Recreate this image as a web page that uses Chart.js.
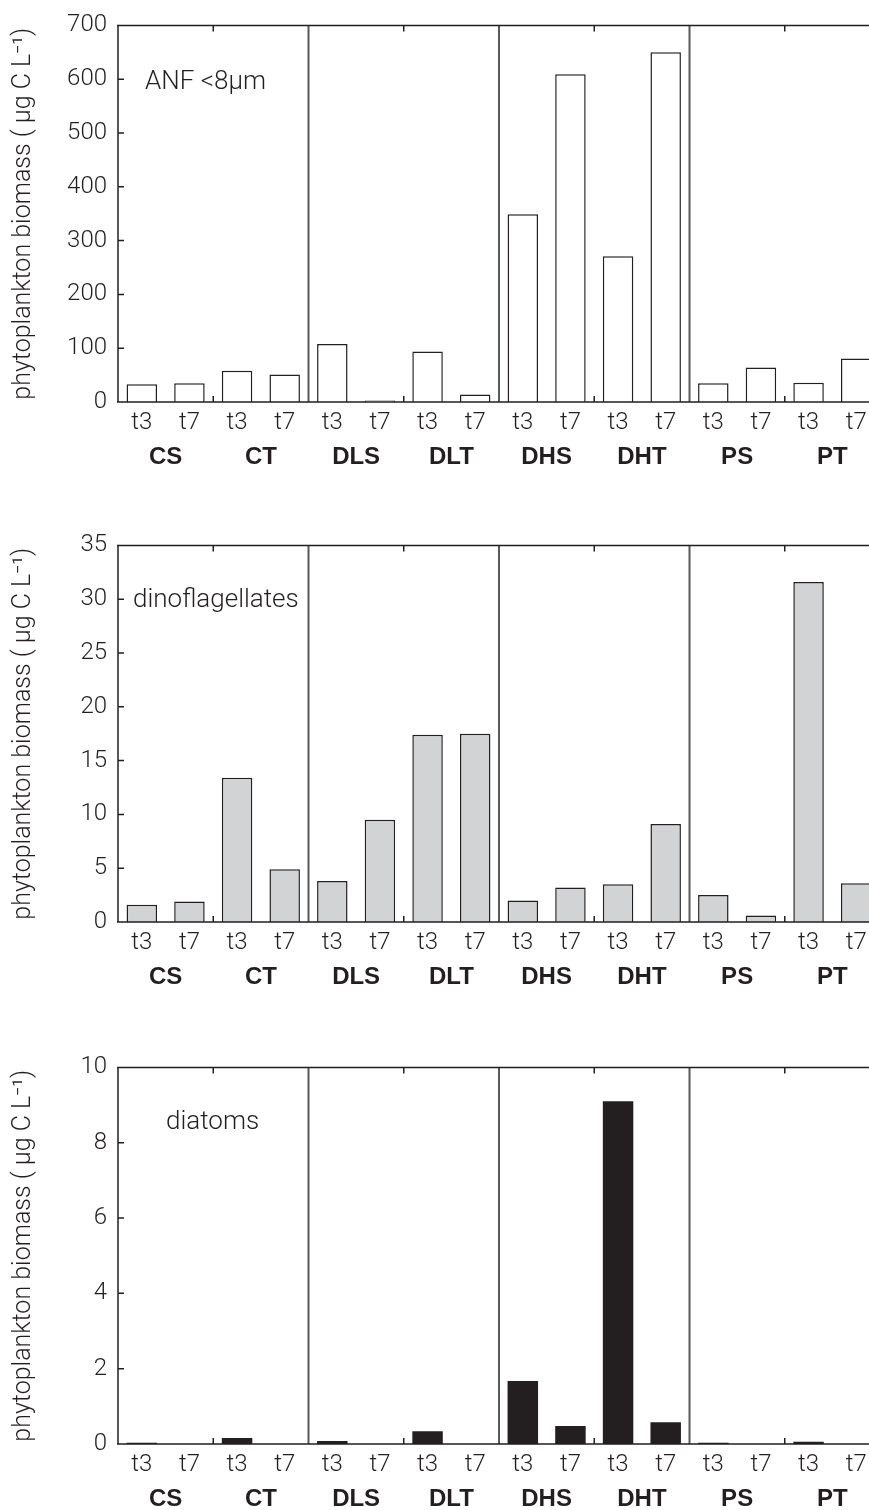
<!DOCTYPE html>
<html>
<head>
<meta charset="utf-8">
<script src="https://cdn.jsdelivr.net/npm/chart.js@4/dist/chart.umd.min.js"></script>
<style>
  html, body { margin: 0; padding: 0; background: #fff; overflow: hidden; width: 869px; height: 1510px; }
  canvas { position: absolute; left: 0; }
</style>
</head>
<body>
<canvas id="anf" width="882" height="480" style="top:0px"></canvas>
<canvas id="dino" width="882" height="480" style="top:520px"></canvas>
<canvas id="diatom" width="882" height="480" style="top:1042px"></canvas>
<script>
// treatments and sampling days
const groups = ["CS", "CT", "DLS", "DLT", "DHS", "DHT", "PS", "PT"];
const times = ["t3", "t7"];

// biomass values, t3 then t7 for each treatment
const anfValues = [33, 35, 58, 51, 108, 3, 94, 14, 349, 609, 271, 650, 35, 64, 36, 81];
const dinoValues = [1.6, 1.9, 13.4, 4.9, 3.8, 9.5, 17.4, 17.5, 2.0, 3.2, 3.5, 9.1, 2.5, 0.6, 31.6, 3.6];
const diatomValues = [0.03, 0, 0.16, 0, 0.08, 0, 0.34, 0, 1.67, 0.48, 9.1, 0.58, 0.03, 0, 0.06, 0];

const ink = "#231f20";
const lightFont = "Roboto, 'Liberation Sans', sans-serif";
const yTitle = "phytoplankton biomass ( \u03bcg C L\u207b\u00b9)";

// frame, inward ticks, separators and the panel label
const framePlugin = {
  id: "frame",
  afterDatasetsDraw(chart, args, opts) {
    const ctx = chart.ctx;
    const a = chart.chartArea;
    const x = chart.scales.x;
    const y = chart.scales.y;
    const mid = (i) => (x.getPixelForValue(i) + x.getPixelForValue(i + 1)) / 2;
    ctx.save();

    // separators between every 2 treatments
    ctx.strokeStyle = "#58595b";
    ctx.lineWidth = 2;
    [3, 7, 11].forEach((i) => {
      ctx.beginPath();
      ctx.moveTo(mid(i), a.top);
      ctx.lineTo(mid(i), a.bottom);
      ctx.stroke();
    });

    ctx.strokeStyle = ink;
    ctx.lineWidth = 1.5;
    ctx.beginPath();
    ctx.moveTo(a.left, a.top);
    ctx.lineTo(a.left, a.bottom);
    ctx.moveTo(a.left - 1, a.top);
    ctx.lineTo(a.right, a.top);
    ctx.moveTo(a.left - 1, a.bottom);
    ctx.lineTo(a.right, a.bottom);
    ctx.stroke();

    // small ticks between treatments
    ctx.beginPath();
    [1, 5, 9, 13].forEach((i) => {
      ctx.moveTo(mid(i), a.top);
      ctx.lineTo(mid(i), a.top + 6);
      ctx.moveTo(mid(i), a.bottom);
      ctx.lineTo(mid(i), a.bottom - 6);
    });
    // inward y ticks
    y.ticks.forEach((t) => {
      if (t.value <= y.min || t.value >= y.max) return;
      const py = y.getPixelForValue(t.value);
      ctx.moveTo(a.left, py);
      ctx.lineTo(a.left + 6, py);
    });
    ctx.stroke();

    // panel label
    ctx.fillStyle = ink;
    ctx.font = "300 26px " + lightFont;
    ctx.textBaseline = "middle";
    ctx.fillText(opts.text, a.left + opts.dx, a.top + opts.dy);
    ctx.restore();
  },
};

function makePanel(id, values, max, step, fill, border, bw, label, dx, dy) {
  new Chart(document.getElementById(id), {
    type: "bar",
    data: {
      labels: groups.flatMap(() => times),
      datasets: [
        {
          data: values,
          backgroundColor: fill,
          borderColor: border,
          borderWidth: bw,
          barPercentage: 0.64,
          categoryPercentage: 1,
        },
      ],
    },
    options: {
      responsive: false,
      animation: false,
      layout: { padding: { top: 23, right: 2, bottom: 3, left: 0 } },
      plugins: {
        legend: { display: false },
        tooltip: { enabled: false },
        frame: { text: label, dx: dx, dy: dy },
      },
      scales: {
        x: {
          grid: { display: false, drawTicks: false },
          border: { display: false },
          ticks: { color: ink, padding: 7, font: { family: lightFont, size: 24, weight: 300 } },
          afterFit: (s) => { s.height = 35; },
        },
        x2: {
          type: "category",
          labels: groups,
          position: "bottom",
          grid: { display: false, drawTicks: false },
          border: { display: false },
          ticks: { color: ink, padding: 6, font: { family: "'Liberation Sans', Arial, sans-serif", size: 24, weight: "bold" } },
          afterFit: (s) => { s.height = 40; },
        },
        y: {
          min: 0,
          max: max,
          grid: { display: false, drawTicks: false },
          border: { display: false },
          ticks: { stepSize: step, color: ink, padding: 11, font: { family: lightFont, size: 24, weight: 300 } },
          title: {
            display: true,
            text: yTitle,
            color: ink,
            padding: { top: 9, bottom: 0 },
            font: { family: lightFont, size: 25, weight: 300 },
          },
          afterFit: (s) => { s.width = 118; },
        },
      },
    },
    plugins: [framePlugin],
  });
}

makePanel("anf", anfValues, 700, 100, "#ffffff", ink, 1.5, "ANF <8\u03bcm", 27, 57);
makePanel("dino", dinoValues, 35, 5, "#d1d3d4", ink, 1.5, "dinoflagellates", 15, 55);
makePanel("diatom", diatomValues, 10, 2, ink, ink, 0, "diatoms", 48, 55);
</script>
</body>
</html>
